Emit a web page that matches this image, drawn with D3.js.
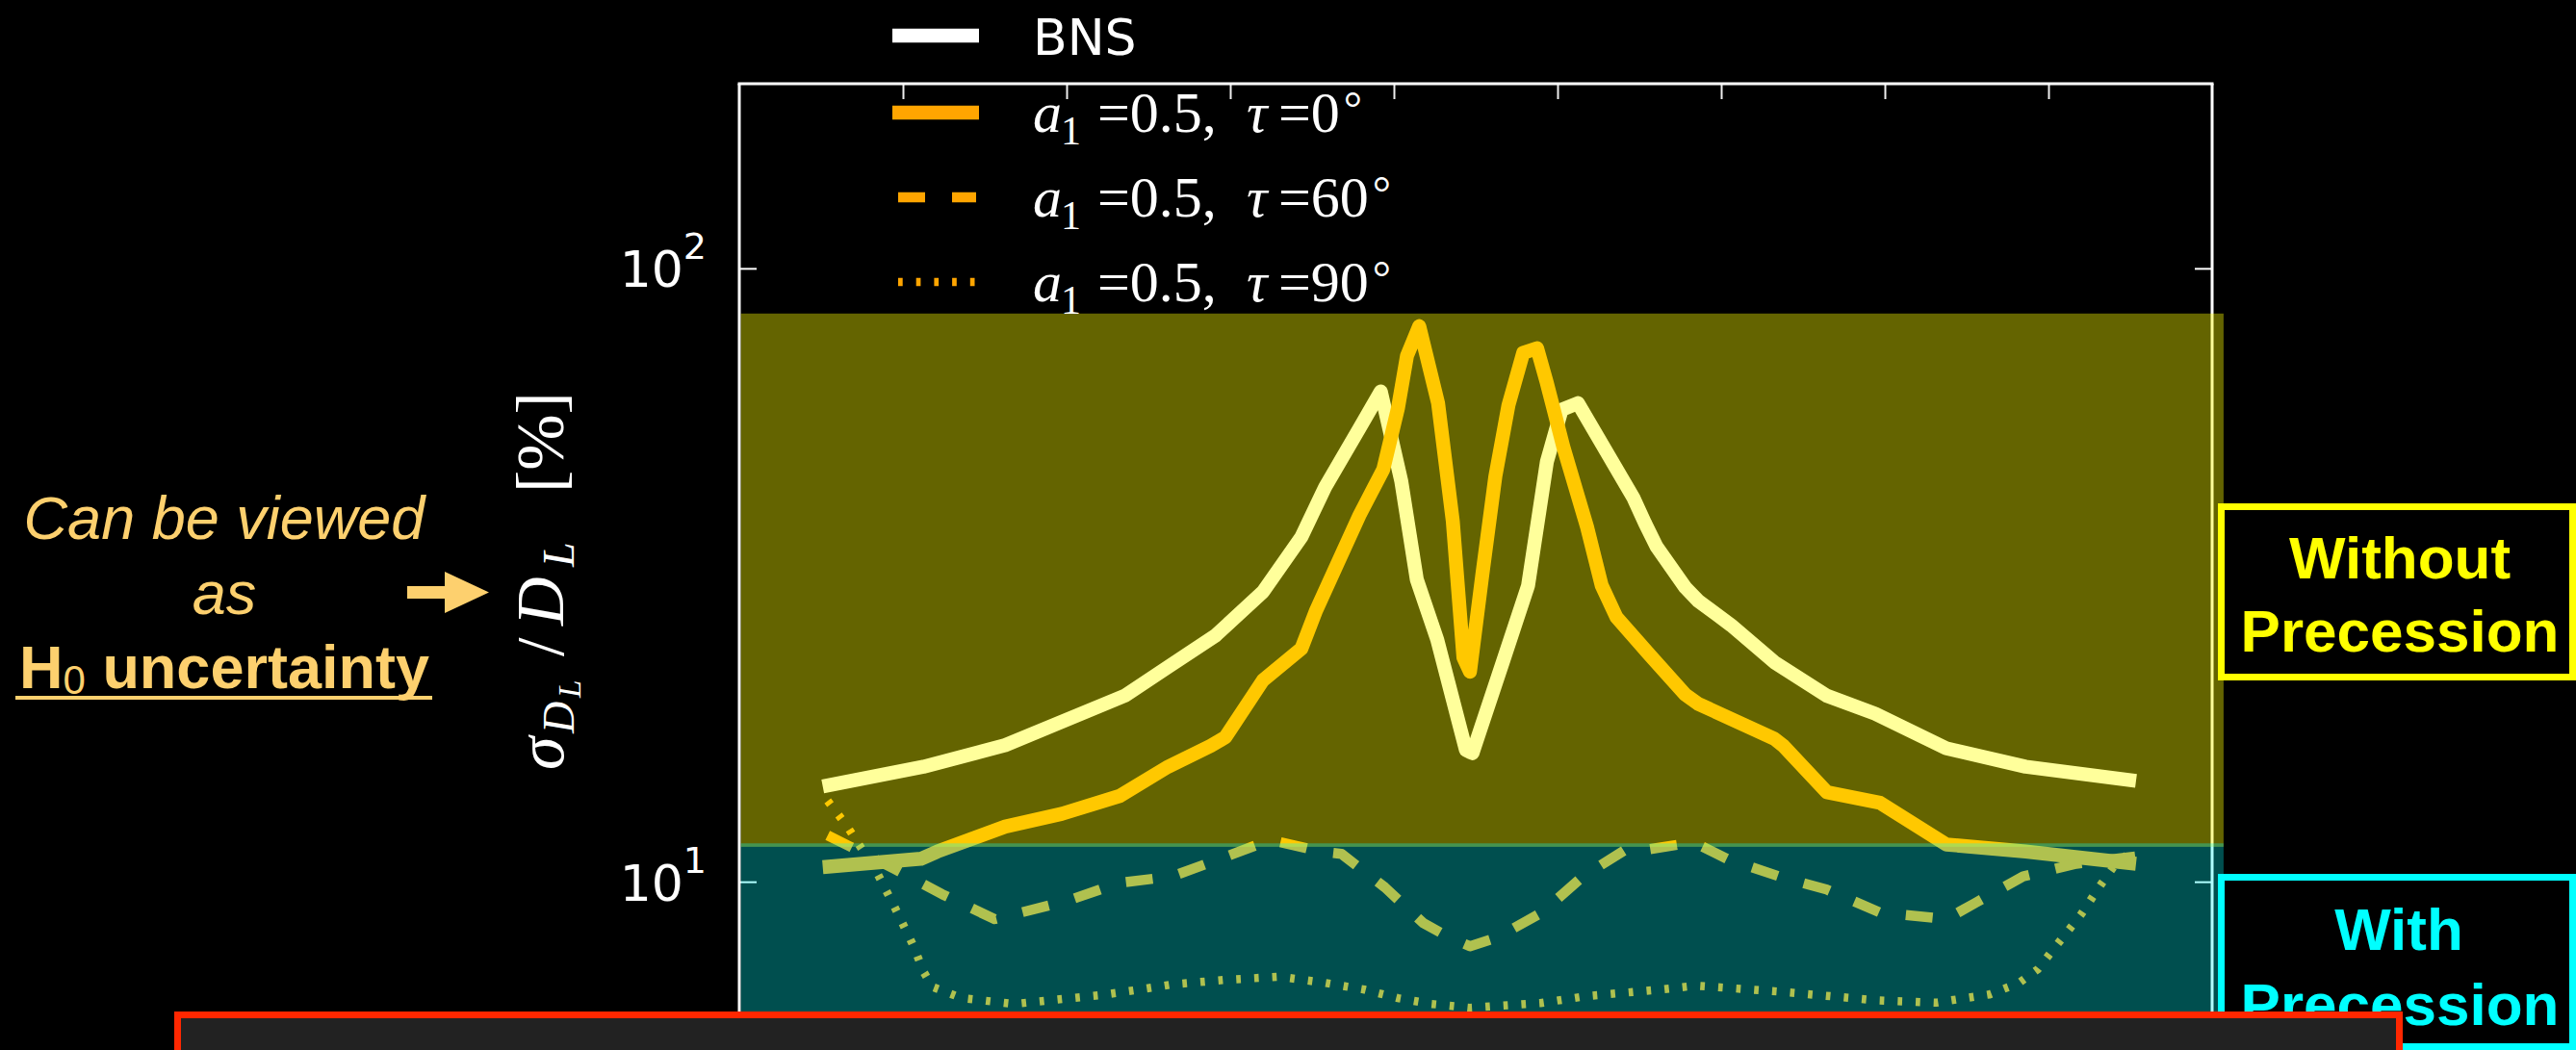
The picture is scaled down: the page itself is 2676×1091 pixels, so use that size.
<!DOCTYPE html>
<html>
<head>
<meta charset="utf-8">
<script src="https://cdn.jsdelivr.net/npm/d3@7"></script>
<style>
  html, body { margin: 0; padding: 0; background: #000; overflow: hidden; }
  svg { display: block; }
</style>
</head>
<body>
<svg id="chart" width="2676" height="1091"></svg>
<script>
// Fractional luminosity-distance error (%) against inclination angle (deg)

// BNS (no spin)
const bnsDeg = [10.2, 22.5, 32.5, 47.1, 52.4, 58.2, 64.0, 68.7, 71.6, 75.8, 78.4, 80.9, 82.8, 85.3, 88.8, 89.6,
                93.4, 96.4, 98.7, 100.5, 102.5, 109.3, 110.7, 112.1, 115.6, 117.2, 121.2, 126.5, 132.9, 138.8, 147.5, 157.2, 170.7];
const bnsErr = [14.3, 15.4, 16.7, 20.1, 22.4, 25.2, 29.7, 36.5, 44.0, 54.9, 63.0, 45.0, 31.1, 24.8, 16.4, 16.2,
                23.0, 30.4, 48.4, 58.8, 60.3, 42.2, 38.4, 35.2, 30.2, 28.7, 26.2, 22.8, 20.1, 18.8, 16.5, 15.4, 14.6];

// a1 = 0.5, tau = 0 deg
const tau0Deg = [10.2, 22.2, 24.2, 32.5, 39.4, 46.5, 52.4, 57.6, 59.4, 64.0, 68.7, 70.5, 73.4, 75.8, 78.7, 80.5, 81.6, 83.1,
                 85.4, 87.2, 88.5, 89.3, 90.8, 92.4, 94.0, 95.8, 97.5, 98.7, 100.7, 103.6, 105.4, 107.2, 111.3, 115.6,
                 117.2, 126.5, 127.6, 132.9, 139.4, 147.5, 157.2, 170.7];
const tau0Err = [10.56, 10.9, 11.2, 12.3, 12.9, 13.8, 15.4, 16.65, 17.2, 21.3, 24.0, 27.7, 33.7, 39.6, 47.0, 59.2, 72.0, 80.5,
                 60.3, 38.7, 23.2, 22.0, 31.6, 45.8, 59.8, 72.8, 74.1, 65.0, 51.2, 37.9, 30.4, 27.0, 23.4, 20.2,
                 19.5, 17.1, 16.65, 14.0, 13.45, 11.5, 11.2, 10.7];

// a1 = 0.5, tau = 60 deg
const tau60Deg = [10.8, 13.6, 18.9, 24.8, 31.2, 40.0, 46.5, 52.9, 58.8, 64.9, 71.1, 73.6, 78.9, 83.6, 86.8, 89.3,
                  92.6, 98.1, 103.1, 108.4, 111.3, 116.6, 120.7, 127.1, 132.9, 139.4, 147.5, 151.1, 156.9, 163.4, 170.7];
const tau60Err = [11.9, 11.4, 10.5, 9.54, 8.69, 9.30, 9.96, 10.2, 10.9, 11.7, 11.2, 11.1, 9.79, 8.56, 8.11, 7.85,
                  8.11, 8.91, 10.2, 11.3, 11.3, 11.6, 10.9, 10.2, 9.71, 8.91, 8.69, 9.24, 10.2, 10.7, 11.0];

// a1 = 0.5, tau = 90 deg
const tau90Deg = [10.8, 13.2, 14.8, 16.9, 18.9, 21.3, 22.5, 23.6, 27.2, 33.6, 37.6, 44.1, 48.2, 52.9, 59.4, 66.1,
                  71.6, 76.4, 80.5, 84.6, 89.3, 97.9, 103.6, 112.5, 116.9, 127.1, 138.8, 146.2, 152.8, 156.4,
                  158.7, 161.1, 164.0, 166.4, 168.0, 170.1];
const tau90Err = [13.55, 12.3, 11.4, 10.3, 9.14, 7.85, 7.14, 6.74, 6.46, 6.32, 6.40, 6.53, 6.65, 6.80, 6.92, 7.0,
                  6.84, 6.67, 6.46, 6.32, 6.23, 6.34, 6.51, 6.67, 6.77, 6.62, 6.41, 6.35, 6.55, 6.84,
                  7.20, 7.91, 8.85, 9.89, 10.6, 11.2];

// error bands: spread without precession / with precession (%)
const bandX = [0.2, 181.4];
const withoutBand = [11.4, 84.4];
const withBand = [5.5, 11.55];

// ticks
const xTicks = [20, 40, 60, 80, 100, 120, 140, 160];
const yMajor = [10, 100];
const yMinor = [6, 7, 8, 9, 20, 30, 40, 50, 60, 70, 80, 90, 200];

// legend
const legendNames = ["BNS", "a1", "a1", "a1"];
const legendSpin = "0.5";
const legendTau = ["0", "60", "90"];

const svg = d3.select("#chart");
svg.append("rect").attr("width", 2676).attr("height", 1091).attr("fill", "#000");

const plotL = 768, plotR = 2298, plotT = 87, plotB = 1108;
const x = d3.scaleLinear().domain([0, 180]).range([plotL, plotR]);
const y = d3.scaleLog().domain([5, 200]).range([plotB, plotT]);

// ---- axes frame and ticks ----
const axes = svg.append("g");

const topAxis = axes.append("g").attr("transform", `translate(0,${plotT})`)
  .call(d3.axisTop(x).tickValues(xTicks).tickSize(-16).tickFormat(""));
topAxis.select(".domain").remove();
topAxis.selectAll("line").attr("stroke", "#eee").attr("stroke-width", 2);

function styleTicks(g, color) {
  g.select(".domain").remove();
  g.selectAll("line").attr("stroke", color).attr("stroke-width", 2);
}

const leftMinor = axes.append("g").attr("transform", `translate(${plotL},0)`)
  .call(d3.axisLeft(y).tickValues(yMinor).tickSize(-6).tickFormat(""));
styleTicks(leftMinor, "#000");
const rightMinor = axes.append("g").attr("transform", `translate(${plotR},0)`)
  .call(d3.axisRight(y).tickValues(yMinor).tickSize(-6).tickFormat(""));
styleTicks(rightMinor, "#000");

const leftMajor = axes.append("g").attr("transform", `translate(${plotL},0)`)
  .call(d3.axisLeft(y).tickValues(yMajor).tickSize(-18).tickPadding(34).tickFormat(d => d));
styleTicks(leftMajor, "#fff");
leftMajor.attr("font-family", "DejaVu Sans").attr("font-size", 52);
leftMajor.selectAll("text").each(function(d) {
  const t = d3.select(this).attr("fill", "#fff").attr("dy", null).attr("y", 19).text(null);
  t.append("tspan").text("10");
  t.append("tspan").attr("font-size", 38).attr("dy", -29).text(Math.round(Math.log10(d)));
});
const rightMajor = axes.append("g").attr("transform", `translate(${plotR},0)`)
  .call(d3.axisRight(y).tickValues(yMajor).tickSize(-18).tickFormat(""));
styleTicks(rightMajor, "#fff");

// spines
axes.append("line").attr("x1", plotL).attr("x2", plotL).attr("y1", plotT).attr("y2", 1100)
  .attr("stroke", "#fff").attr("stroke-width", 3);
axes.append("line").attr("x1", plotR).attr("x2", plotR).attr("y1", plotT).attr("y2", 1100)
  .attr("stroke", "#fff").attr("stroke-width", 3);
axes.append("line").attr("x1", plotL - 1.5).attr("x2", plotR + 1.5).attr("y1", plotT).attr("y2", plotT)
  .attr("stroke", "#fff").attr("stroke-width", 3);

// ---- curves ----
const series = [
  { xs: bnsDeg,   ys: bnsErr,   color: "#ffffff", width: 14.5, dash: null },
  { xs: tau0Deg,  ys: tau0Err,  color: "#ffa500", width: 14.5, dash: null },
  { xs: tau60Deg, ys: tau60Err, color: "#ffa500", width: 10.5, dash: "28,28" },
  { xs: tau90Deg, ys: tau90Err, color: "#ffa500", width: 8.5,  dash: "4.7,14" }
];
const line = d3.line().x(d => x(d[0])).y(d => y(d[1]));
const curves = svg.append("g");
series.forEach(s => {
  curves.append("path")
    .attr("d", line(d3.zip(s.xs, s.ys)))
    .attr("fill", "none")
    .attr("stroke", s.color)
    .attr("stroke-width", s.width)
    .attr("stroke-linejoin", "round")
    .attr("stroke-linecap", "butt")
    .attr("stroke-dasharray", s.dash);
});

// ---- translucent bands ----
svg.append("rect")
  .attr("x", x(bandX[0])).attr("width", x(bandX[1]) - x(bandX[0]))
  .attr("y", y(withoutBand[1])).attr("height", y(withoutBand[0]) - y(withoutBand[1]))
  .attr("fill", "#ffff00").attr("fill-opacity", 0.392);
svg.append("rect")
  .attr("x", x(bandX[0])).attr("width", x(bandX[1]) - x(bandX[0]))
  .attr("y", y(withBand[1])).attr("height", y(withBand[0]) - y(withBand[1]))
  .attr("fill", "#00ffff").attr("fill-opacity", 0.31);

// ---- legend ----
const legend = svg.append("g");
const legendRows = [37, 117, 205, 293];
legendRows.forEach((ly, i) => {
  const s = series[i];
  legend.append("line")
    .attr("x1", s.dash ? 933 : 927).attr("x2", s.dash ? 1014 : 1017)
    .attr("y1", ly).attr("y2", ly)
    .attr("stroke", s.color).attr("stroke-width", s.width)
    .attr("stroke-dasharray", s.dash);
  if (i === 0) {
    legend.append("text").attr("x", 1073).attr("y", ly + 20)
      .attr("font-family", "DejaVu Sans").attr("font-size", 52).attr("fill", "#fff")
      .text(legendNames[0]);
  } else {
    const x0 = 1073, base = ly + 20;
    const t = legend.append("text").attr("y", base)
      .attr("font-family", "Liberation Serif").attr("font-size", 60).attr("fill", "#fff");
    t.append("tspan").attr("x", x0).attr("font-style", "italic").text(legendNames[i].charAt(0));
    t.append("tspan").attr("x", x0 + 29).attr("y", base + 13).attr("font-size", 42).text(legendNames[i].charAt(1));
    t.append("tspan").attr("x", x0 + 67).attr("y", base).text("=" + legendSpin + ",");
    t.append("tspan").attr("x", x0 + 222).attr("font-style", "italic").text("τ");
    t.append("tspan").attr("x", x0 + 255).text("=" + legendTau[i - 1]);
    t.append("tspan").attr("dx", 4).attr("y", base - 8).attr("font-size", 48).text("°");
  }
});

// ---- y-axis title ----
const yt = svg.append("text")
  .attr("transform", "translate(585,800) rotate(-90)")
  .attr("font-family", "Liberation Serif").attr("fill", "#fff").attr("font-size", 70);
yt.append("tspan").attr("x", 0).attr("y", 0).attr("font-style", "italic").text("σ");
yt.append("tspan").attr("x", 38).attr("y", 11).attr("font-style", "italic").attr("font-size", 46).text("D");
yt.append("tspan").attr("x", 75).attr("y", 18).attr("font-style", "italic").attr("font-size", 33).text("L");
yt.append("tspan").attr("x", 118).attr("y", 0).text("/");
yt.append("tspan").attr("x", 150).attr("y", 0).attr("font-style", "italic").text("D");
yt.append("tspan").attr("x", 211).attr("y", 11).attr("font-style", "italic").attr("font-size", 46).text("L");
yt.append("tspan").attr("x", 288).attr("y", 0).text("[%]");

// ---- side annotation ----
const noteColor = "#fdd06e";
const note = svg.append("g").attr("fill", noteColor).attr("font-family", "Liberation Sans").attr("text-anchor", "middle");
note.append("text").attr("x", 233).attr("y", 560).attr("font-size", 63).attr("font-style", "italic").text("Can be viewed");
note.append("text").attr("x", 233).attr("y", 638).attr("font-size", 63).attr("font-style", "italic").text("as");
const h0 = note.append("text").attr("x", 233).attr("y", 715).attr("font-size", 63).attr("font-weight", "bold");
h0.append("tspan").text("H");
h0.append("tspan").attr("font-size", 42).attr("font-weight", "normal").attr("dy", 6).text("0");
h0.append("tspan").attr("dy", -6).text(" uncertainty");
svg.append("line").attr("x1", 16).attr("x2", 449).attr("y1", 725).attr("y2", 725)
  .attr("stroke", noteColor).attr("stroke-width", 4);
svg.append("polygon")
  .attr("points", "423,609 462,609 462,594 508,615.5 462,637 462,622 423,622")
  .attr("fill", noteColor);

// ---- precession boxes ----
svg.append("rect").attr("x", 2307.5).attr("y", 526.5).attr("width", 365).attr("height", 177)
  .attr("fill", "#000").attr("stroke", "#ffff00").attr("stroke-width", 7);
const wo = svg.append("g").attr("fill", "#ffff00").attr("font-family", "Liberation Sans")
  .attr("font-weight", "bold").attr("font-size", 62).attr("text-anchor", "middle");
wo.append("text").attr("x", 2493).attr("y", 601).text("Without");
wo.append("text").attr("x", 2493).attr("y", 677).text("Precession");

svg.append("rect").attr("x", 2307.5).attr("y", 911.5).attr("width", 365).attr("height", 176)
  .attr("fill", "#000").attr("stroke", "#00ffff").attr("stroke-width", 7);
const wi = svg.append("g").attr("fill", "#00ffff").attr("font-family", "Liberation Sans")
  .attr("font-weight", "bold").attr("font-size", 62).attr("text-anchor", "middle");
wi.append("text").attr("x", 2492).attr("y", 987).text("With");
wi.append("text").attr("x", 2493).attr("y", 1065).text("Precession");

// ---- caption panel along the bottom ----
svg.append("rect").attr("x", 184.5).attr("y", 1054.5).attr("width", 2308).attr("height", 80)
  .attr("fill", "#222").attr("stroke", "#ff2700").attr("stroke-width", 7);
</script>
</body>
</html>
